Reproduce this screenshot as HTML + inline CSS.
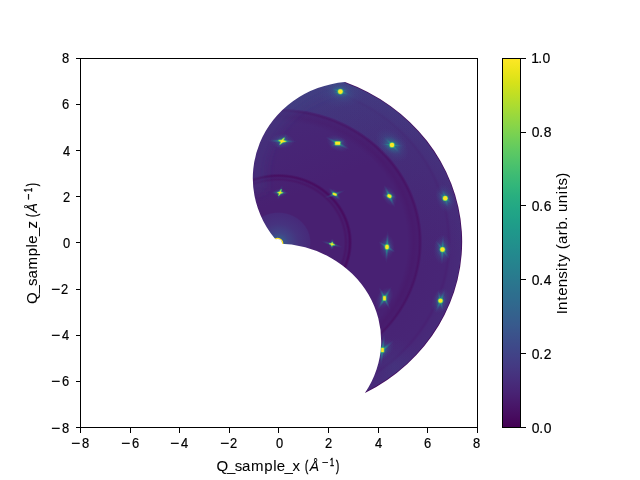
<!DOCTYPE html>
<html><head><meta charset="utf-8"><title>Reciprocal space map</title>
<style>
html,body{margin:0;padding:0;background:#fff;}
body{width:640px;height:480px;overflow:hidden;font-family:"Liberation Sans",sans-serif;}
svg{display:block;will-change:transform;}
text{font-family:"Liberation Sans",sans-serif;}
</style></head>
<body>
<svg width="640" height="480" viewBox="0 0 640 480">
<defs>
<clipPath id="reg"><path d="M278.90,243.00 A101.75,96.80 0 0 1 344.99,81.90 A184.26,171.63 0 0 1 364.95,393.01 A104.83,97.41 0 0 0 277.80,243.58 Z"/></clipPath>
<mask id="hole"><rect x="0" y="0" width="640" height="480" fill="#fff"/><ellipse cx="277.6" cy="243.4" rx="4.5" ry="4.3" fill="#000"/></mask>
<radialGradient id="bg" gradientUnits="userSpaceOnUse" cx="0" cy="0" r="7.5" gradientTransform="translate(278.4,242.4) scale(24.8,23.1)"><stop offset="0.0000" stop-color="#38588c"/><stop offset="0.0267" stop-color="#38588c"/><stop offset="0.0533" stop-color="#414487"/><stop offset="0.1067" stop-color="#46337f"/><stop offset="0.1680" stop-color="#472a7a"/><stop offset="0.1747" stop-color="#482071"/><stop offset="0.3507" stop-color="#482071"/><stop offset="0.3627" stop-color="#481668"/><stop offset="0.3733" stop-color="#481c6e"/><stop offset="0.3827" stop-color="#470d60"/><stop offset="0.3867" stop-color="#470d60"/><stop offset="0.3973" stop-color="#482173"/><stop offset="0.6933" stop-color="#482173"/><stop offset="0.7267" stop-color="#481b6d"/><stop offset="0.7493" stop-color="#481d6f"/><stop offset="0.7613" stop-color="#471365"/><stop offset="0.7733" stop-color="#482475"/><stop offset="0.9040" stop-color="#482576"/><stop offset="0.9173" stop-color="#482173"/><stop offset="0.9307" stop-color="#482878"/><stop offset="1.0000" stop-color="#472c7a"/></radialGradient>
<filter id="blur5" x="-30%" y="-30%" width="160%" height="160%"><feGaussianBlur stdDeviation="5"/></filter>
<radialGradient id="glow"><stop offset="0" stop-color="#3b528b" stop-opacity="0.55"/><stop offset="1" stop-color="#3e4989" stop-opacity="0"/></radialGradient>
<filter id="soft" x="-20%" y="-20%" width="140%" height="140%"><feGaussianBlur stdDeviation="0.6"/></filter>
<radialGradient id="strk"><stop offset="0" stop-color="#35b779" stop-opacity="1"/><stop offset="0.28" stop-color="#21918c" stop-opacity="0.85"/><stop offset="0.55" stop-color="#31688e" stop-opacity="0.5"/><stop offset="0.8" stop-color="#3e4989" stop-opacity="0.22"/><stop offset="1" stop-color="#3e4989" stop-opacity="0"/></radialGradient>
<radialGradient id="halo"><stop offset="0" stop-color="#21918c" stop-opacity="0.9"/><stop offset="0.3" stop-color="#2c728e" stop-opacity="0.6"/><stop offset="0.55" stop-color="#3b528b" stop-opacity="0.35"/><stop offset="1" stop-color="#414487" stop-opacity="0"/></radialGradient>
<linearGradient id="toplight" gradientUnits="userSpaceOnUse" x1="305" y1="80" x2="345" y2="175"><stop offset="0" stop-color="#3e4989" stop-opacity="0.36"/><stop offset="0.4" stop-color="#3e4989" stop-opacity="0.13"/><stop offset="1" stop-color="#3e4989" stop-opacity="0"/></linearGradient>
<linearGradient id="bandg" gradientUnits="userSpaceOnUse" x1="330" y1="80" x2="420" y2="270"><stop offset="0" stop-color="#355f8d" stop-opacity="0.26"/><stop offset="0.4" stop-color="#355f8d" stop-opacity="0.17"/><stop offset="0.7" stop-color="#355f8d" stop-opacity="0.08"/><stop offset="1" stop-color="#355f8d" stop-opacity="0"/></linearGradient>
<linearGradient id="cb" x1="0" y1="0" x2="0" y2="1"><stop offset="0.0000" stop-color="#fde725"/><stop offset="0.0312" stop-color="#ece51b"/><stop offset="0.0625" stop-color="#d8e219"/><stop offset="0.0938" stop-color="#c2df23"/><stop offset="0.1250" stop-color="#addc30"/><stop offset="0.1562" stop-color="#98d83e"/><stop offset="0.1875" stop-color="#84d44b"/><stop offset="0.2188" stop-color="#70cf57"/><stop offset="0.2500" stop-color="#5ec962"/><stop offset="0.2812" stop-color="#4ec36b"/><stop offset="0.3125" stop-color="#3fbc73"/><stop offset="0.3438" stop-color="#32b67a"/><stop offset="0.3750" stop-color="#28ae80"/><stop offset="0.4062" stop-color="#22a785"/><stop offset="0.4375" stop-color="#1fa088"/><stop offset="0.4688" stop-color="#1f988b"/><stop offset="0.5000" stop-color="#21918c"/><stop offset="0.5312" stop-color="#23898e"/><stop offset="0.5625" stop-color="#26828e"/><stop offset="0.5938" stop-color="#297a8e"/><stop offset="0.6250" stop-color="#2c728e"/><stop offset="0.6562" stop-color="#2f6b8e"/><stop offset="0.6875" stop-color="#33638d"/><stop offset="0.7188" stop-color="#375b8d"/><stop offset="0.7500" stop-color="#3b528b"/><stop offset="0.7812" stop-color="#3e4989"/><stop offset="0.8125" stop-color="#424086"/><stop offset="0.8438" stop-color="#453781"/><stop offset="0.8750" stop-color="#472d7b"/><stop offset="0.9062" stop-color="#482374"/><stop offset="0.9375" stop-color="#48186a"/><stop offset="0.9688" stop-color="#470d60"/><stop offset="1.0000" stop-color="#440154"/></linearGradient>
</defs>
<rect x="0" y="0" width="640" height="480" fill="#fff"/>
<g clip-path="url(#reg)"><g mask="url(#hole)">
<rect x="240" y="70" width="240" height="340" fill="url(#bg)"/>
<path fill-rule="evenodd" fill="url(#bandg)" d="M89.92,242.4 a188.48,175.56 0 1 0 376.96,0 a188.48,175.56 0 1 0 -376.96,0 Z M134.56,242.4 a143.84,133.98 0 1 0 287.68,0 a143.84,133.98 0 1 0 -287.68,0 Z"/>
<rect x="240" y="70" width="240" height="200" fill="url(#toplight)"/>
<path d="M258.40,192.40 A104.16,97.02 0 0 1 344.99,81.90" fill="none" stroke="#3e4989" stroke-opacity="0.26" stroke-width="16" filter="url(#blur5)"/>
<ellipse cx="341" cy="92" rx="24" ry="16" fill="url(#glow)"/>
<ellipse cx="394" cy="366" rx="28" ry="30" fill="url(#glow)" opacity="0.4"/>
<path d="M344.99,81.90 A184.26,171.63 0 0 1 364.95,393.01" fill="none" stroke="#440154" stroke-opacity="0.75" stroke-width="1.6"/>
<ellipse cx="277.6" cy="243.4" rx="5.1" ry="4.9" fill="none" stroke="#fde725" stroke-width="1.3"/>
<ellipse cx="340.4" cy="91.6" rx="16.2" ry="10.2" fill="url(#halo)" transform="rotate(19.6 340.4 91.6)"/><ellipse cx="340.4" cy="91.6" rx="12.0" ry="7.2" fill="url(#halo)" opacity="0.7" transform="rotate(168.1 340.4 91.6)"/><g filter="url(#soft)" opacity="1"><ellipse cx="340.4" cy="91.6" rx="11.5" ry="2.1" fill="url(#strk)" transform="rotate(19.6 340.4 91.6)"/><ellipse cx="340.4" cy="91.6" rx="9.2" ry="1.9" fill="url(#strk)" transform="rotate(168.1 340.4 91.6)"/></g><ellipse cx="340.4" cy="91.6" rx="2.95" ry="2.95" fill="#4ac16d" transform="rotate(0 340.4 91.6)"/><ellipse cx="340.4" cy="91.6" rx="2.30" ry="2.30" fill="#fde725" transform="rotate(0 340.4 91.6)"/><ellipse cx="282.2" cy="141.1" rx="12.2" ry="7.6" fill="url(#halo)" transform="rotate(1.9 282.2 141.1)"/><ellipse cx="282.2" cy="141.1" rx="9.0" ry="5.4" fill="url(#halo)" opacity="0.7" transform="rotate(125.4 282.2 141.1)"/><g filter="url(#soft)" opacity="1"><ellipse cx="282.2" cy="141.1" rx="14.9" ry="2.1" fill="url(#strk)" transform="rotate(1.9 282.2 141.1)"/><ellipse cx="282.2" cy="141.1" rx="8.0" ry="1.9" fill="url(#strk)" transform="rotate(125.4 282.2 141.1)"/></g><polygon points="286.20,141.40 283.20,140.20 284.20,138.10 281.70,139.90 278.70,140.50 281.00,141.90 280.00,144.30 282.80,142.30" fill="#4ac16d" stroke="#4ac16d" stroke-width="1.30" stroke-linejoin="round"/><polygon points="286.20,141.40 283.20,140.20 284.20,138.10 281.70,139.90 278.70,140.50 281.00,141.90 280.00,144.30 282.80,142.30" fill="#fde725"/><ellipse cx="337.65" cy="143.25" rx="12.2" ry="7.6" fill="url(#halo)" transform="rotate(27.4 337.65 143.25)"/><ellipse cx="337.65" cy="143.25" rx="9.0" ry="5.4" fill="url(#halo)" opacity="0.7" transform="rotate(156.4 337.65 143.25)"/><g filter="url(#soft)" opacity="1"><ellipse cx="337.65" cy="143.25" rx="13.8" ry="2.1" fill="url(#strk)" transform="rotate(27.4 337.65 143.25)"/><ellipse cx="337.65" cy="143.25" rx="8.0" ry="1.9" fill="url(#strk)" transform="rotate(156.4 337.65 143.25)"/></g><rect x="334.60" y="141.10" width="6.10" height="4.30" rx="1.25" fill="#4ac16d" transform="rotate(0 337.65 143.25)"/><rect x="335.25" y="141.75" width="4.80" height="3.00" rx="0.60" fill="#fde725" transform="rotate(0 337.65 143.25)"/><ellipse cx="392.0" cy="145.0" rx="20.2" ry="12.8" fill="url(#halo)" transform="rotate(45.3 392.0 145.0)"/><ellipse cx="392.0" cy="145.0" rx="15.0" ry="9.0" fill="url(#halo)" opacity="0.7" transform="rotate(-175.2 392.0 145.0)"/><g filter="url(#soft)" opacity="1"><ellipse cx="392.0" cy="145.0" rx="12.6" ry="2.1" fill="url(#strk)" transform="rotate(45.3 392.0 145.0)"/><ellipse cx="392.0" cy="145.0" rx="12.6" ry="1.9" fill="url(#strk)" transform="rotate(-175.2 392.0 145.0)"/></g><ellipse cx="392.0" cy="145.0" rx="2.85" ry="2.85" fill="#4ac16d" transform="rotate(0 392.0 145.0)"/><ellipse cx="392.0" cy="145.0" rx="2.20" ry="2.20" fill="#fde725" transform="rotate(0 392.0 145.0)"/><ellipse cx="280.0" cy="192.7" rx="6.8" ry="4.2" fill="url(#halo)" transform="rotate(1.6 280.0 192.7)"/><ellipse cx="280.0" cy="192.7" rx="5.0" ry="3.0" fill="url(#halo)" opacity="0.7" transform="rotate(107.7 280.0 192.7)"/><g filter="url(#soft)" opacity="0.65"><ellipse cx="280.0" cy="192.7" rx="9.2" ry="2.1" fill="url(#strk)" transform="rotate(1.6 280.0 192.7)"/><ellipse cx="280.0" cy="192.7" rx="8.0" ry="1.9" fill="url(#strk)" transform="rotate(107.7 280.0 192.7)"/></g><polygon points="282.70,192.70 280.60,192.00 281.20,189.70 279.50,191.90 277.50,192.50 279.30,193.40 278.70,195.40 280.50,193.60" fill="#4ac16d" stroke="#4ac16d" stroke-width="1.30" stroke-linejoin="round"/><polygon points="282.70,192.70 280.60,192.00 281.20,189.70 279.50,191.90 277.50,192.50 279.30,193.40 278.70,195.40 280.50,193.60" fill="#fde725"/><ellipse cx="334.7" cy="194.2" rx="6.8" ry="4.2" fill="url(#halo)" transform="rotate(45.4 334.7 194.2)"/><ellipse cx="334.7" cy="194.2" rx="5.0" ry="3.0" fill="url(#halo)" opacity="0.7" transform="rotate(160.3 334.7 194.2)"/><g filter="url(#soft)" opacity="0.65"><ellipse cx="334.7" cy="194.2" rx="9.2" ry="2.1" fill="url(#strk)" transform="rotate(45.4 334.7 194.2)"/><ellipse cx="334.7" cy="194.2" rx="11.5" ry="1.9" fill="url(#strk)" transform="rotate(160.3 334.7 194.2)"/></g><ellipse cx="334.7" cy="194.2" rx="2.75" ry="1.65" fill="#4ac16d" transform="rotate(20 334.7 194.2)"/><ellipse cx="334.7" cy="194.2" rx="2.10" ry="1.00" fill="#fde725" transform="rotate(20 334.7 194.2)"/><ellipse cx="389.4" cy="196.1" rx="10.8" ry="6.8" fill="url(#halo)" transform="rotate(64.3 389.4 196.1)"/><ellipse cx="389.4" cy="196.1" rx="8.0" ry="4.8" fill="url(#halo)" opacity="0.7" transform="rotate(-169.2 389.4 196.1)"/><g filter="url(#soft)" opacity="1"><ellipse cx="389.4" cy="196.1" rx="12.6" ry="2.1" fill="url(#strk)" transform="rotate(64.3 389.4 196.1)"/><ellipse cx="389.4" cy="196.1" rx="6.9" ry="1.9" fill="url(#strk)" transform="rotate(-169.2 389.4 196.1)"/></g><ellipse cx="389.4" cy="196.1" rx="2.75" ry="2.25" fill="#4ac16d" transform="rotate(25 389.4 196.1)"/><ellipse cx="389.4" cy="196.1" rx="2.10" ry="1.60" fill="#fde725" transform="rotate(25 389.4 196.1)"/><ellipse cx="445.25" cy="198.25" rx="14.9" ry="9.3" fill="url(#halo)" transform="rotate(73.0 445.25 198.25)"/><ellipse cx="445.25" cy="198.25" rx="11.0" ry="6.6" fill="url(#halo)" opacity="0.7" transform="rotate(-141.5 445.25 198.25)"/><g filter="url(#soft)" opacity="1"><ellipse cx="445.25" cy="198.25" rx="10.3" ry="2.1" fill="url(#strk)" transform="rotate(73.0 445.25 198.25)"/><ellipse cx="445.25" cy="198.25" rx="9.2" ry="1.9" fill="url(#strk)" transform="rotate(-141.5 445.25 198.25)"/></g><ellipse cx="445.25" cy="198.25" rx="2.85" ry="2.85" fill="#4ac16d" transform="rotate(0 445.25 198.25)"/><ellipse cx="445.25" cy="198.25" rx="2.20" ry="2.20" fill="#fde725" transform="rotate(0 445.25 198.25)"/><ellipse cx="332.0" cy="244.25" rx="5.4" ry="3.4" fill="url(#halo)" transform="rotate(92.3 332.0 244.25)"/><ellipse cx="332.0" cy="244.25" rx="4.0" ry="2.4" fill="url(#halo)" opacity="0.7" transform="rotate(-164.1 332.0 244.25)"/><g filter="url(#soft)" opacity="0.65"><ellipse cx="332.0" cy="244.25" rx="5.8" ry="2.1" fill="url(#strk)" transform="rotate(92.3 332.0 244.25)"/><ellipse cx="332.0" cy="244.25" rx="11.5" ry="1.9" fill="url(#strk)" transform="rotate(-164.1 332.0 244.25)"/></g><polygon points="334.60,244.75 332.70,243.65 332.30,242.35 331.40,243.55 329.60,243.75 331.30,244.85 331.80,245.95 332.60,245.05" fill="#4ac16d" stroke="#4ac16d" stroke-width="1.30" stroke-linejoin="round"/><polygon points="334.60,244.75 332.70,243.65 332.30,242.35 331.40,243.55 329.60,243.75 331.30,244.85 331.80,245.95 332.60,245.05" fill="#fde725"/><ellipse cx="387.0" cy="247.0" rx="12.2" ry="7.6" fill="url(#halo)" transform="rotate(92.8 387.0 247.0)"/><ellipse cx="387.0" cy="247.0" rx="9.0" ry="5.4" fill="url(#halo)" opacity="0.7" transform="rotate(-147.8 387.0 247.0)"/><g filter="url(#soft)" opacity="1"><ellipse cx="387.0" cy="247.0" rx="16.1" ry="2.1" fill="url(#strk)" transform="rotate(92.8 387.0 247.0)"/><ellipse cx="387.0" cy="247.0" rx="10.3" ry="1.9" fill="url(#strk)" transform="rotate(-147.8 387.0 247.0)"/></g><ellipse cx="387.0" cy="247.0" rx="2.45" ry="2.95" fill="#4ac16d" transform="rotate(0 387.0 247.0)"/><ellipse cx="387.0" cy="247.0" rx="1.80" ry="2.30" fill="#fde725" transform="rotate(0 387.0 247.0)"/><ellipse cx="442.5" cy="249.5" rx="14.9" ry="9.3" fill="url(#halo)" transform="rotate(92.9 442.5 249.5)"/><ellipse cx="442.5" cy="249.5" rx="11.0" ry="6.6" fill="url(#halo)" opacity="0.7" transform="rotate(-127.2 442.5 249.5)"/><g filter="url(#soft)" opacity="1"><ellipse cx="442.5" cy="249.5" rx="14.9" ry="2.1" fill="url(#strk)" transform="rotate(92.9 442.5 249.5)"/><ellipse cx="442.5" cy="249.5" rx="11.5" ry="1.9" fill="url(#strk)" transform="rotate(-127.2 442.5 249.5)"/></g><ellipse cx="442.5" cy="249.5" rx="2.85" ry="2.85" fill="#4ac16d" transform="rotate(0 442.5 249.5)"/><ellipse cx="442.5" cy="249.5" rx="2.20" ry="2.20" fill="#fde725" transform="rotate(0 442.5 249.5)"/><ellipse cx="384.5" cy="298.25" rx="12.2" ry="7.6" fill="url(#halo)" transform="rotate(121.2 384.5 298.25)"/><ellipse cx="384.5" cy="298.25" rx="9.0" ry="5.4" fill="url(#halo)" opacity="0.7" transform="rotate(-116.3 384.5 298.25)"/><g filter="url(#soft)" opacity="1"><ellipse cx="384.5" cy="298.25" rx="13.8" ry="2.1" fill="url(#strk)" transform="rotate(121.2 384.5 298.25)"/><ellipse cx="384.5" cy="298.25" rx="12.6" ry="1.9" fill="url(#strk)" transform="rotate(-116.3 384.5 298.25)"/></g><rect x="382.55" y="295.50" width="3.90" height="5.50" rx="1.25" fill="#4ac16d" transform="rotate(0 384.5 298.25)"/><rect x="383.20" y="296.15" width="2.60" height="4.20" rx="0.60" fill="#fde725" transform="rotate(0 384.5 298.25)"/><ellipse cx="440.5" cy="300.75" rx="13.5" ry="8.5" fill="url(#halo)" transform="rotate(112.5 440.5 300.75)"/><ellipse cx="440.5" cy="300.75" rx="10.0" ry="6.0" fill="url(#halo)" opacity="0.7" transform="rotate(-103.2 440.5 300.75)"/><g filter="url(#soft)" opacity="1"><ellipse cx="440.5" cy="300.75" rx="12.6" ry="2.1" fill="url(#strk)" transform="rotate(112.5 440.5 300.75)"/><ellipse cx="440.5" cy="300.75" rx="11.5" ry="1.9" fill="url(#strk)" transform="rotate(-103.2 440.5 300.75)"/></g><ellipse cx="440.5" cy="300.75" rx="2.75" ry="2.65" fill="#4ac16d" transform="rotate(0 440.5 300.75)"/><ellipse cx="440.5" cy="300.75" rx="2.10" ry="2.00" fill="#fde725" transform="rotate(0 440.5 300.75)"/><ellipse cx="382.5" cy="350.0" rx="13.5" ry="8.5" fill="url(#halo)" transform="rotate(140.0 382.5 350.0)"/><ellipse cx="382.5" cy="350.0" rx="10.0" ry="6.0" fill="url(#halo)" opacity="0.7" transform="rotate(-83.3 382.5 350.0)"/><g filter="url(#soft)" opacity="1"><ellipse cx="382.5" cy="350.0" rx="14.9" ry="2.1" fill="url(#strk)" transform="rotate(140.0 382.5 350.0)"/><ellipse cx="382.5" cy="350.0" rx="16.1" ry="1.9" fill="url(#strk)" transform="rotate(-83.3 382.5 350.0)"/></g><rect x="380.55" y="347.25" width="3.90" height="5.50" rx="1.25" fill="#4ac16d" transform="rotate(0 382.5 350.0)"/><rect x="381.20" y="347.90" width="2.60" height="4.20" rx="0.60" fill="#fde725" transform="rotate(0 382.5 350.0)"/>
</g></g>
<rect x="80.5" y="58.5" width="397" height="369" fill="none" stroke="#000" stroke-width="1" shape-rendering="crispEdges"/>
<line x1="80.5" y1="428" x2="80.5" y2="432.5" stroke="#000" stroke-width="1" shape-rendering="crispEdges"/><g transform="translate(0,448)"><text transform="translate(71.10,0) scale(1.123,1)" font-family="Liberation Sans, sans-serif" font-size="13.9px" fill="#000" stroke="#000" stroke-width="0.2">−</text><text transform="translate(81.90,0) scale(0.929,1)" font-family="Liberation Sans, sans-serif" font-size="13.9px" fill="#000" stroke="#000" stroke-width="0.2">8</text></g><line x1="130.5" y1="428" x2="130.5" y2="432.5" stroke="#000" stroke-width="1" shape-rendering="crispEdges"/><g transform="translate(0,448)"><text transform="translate(121.10,0) scale(1.123,1)" font-family="Liberation Sans, sans-serif" font-size="13.9px" fill="#000" stroke="#000" stroke-width="0.2">−</text><text transform="translate(131.90,0) scale(0.929,1)" font-family="Liberation Sans, sans-serif" font-size="13.9px" fill="#000" stroke="#000" stroke-width="0.2">6</text></g><line x1="179.5" y1="428" x2="179.5" y2="432.5" stroke="#000" stroke-width="1" shape-rendering="crispEdges"/><g transform="translate(0,448)"><text transform="translate(170.10,0) scale(1.123,1)" font-family="Liberation Sans, sans-serif" font-size="13.9px" fill="#000" stroke="#000" stroke-width="0.2">−</text><text transform="translate(180.90,0) scale(0.929,1)" font-family="Liberation Sans, sans-serif" font-size="13.9px" fill="#000" stroke="#000" stroke-width="0.2">4</text></g><line x1="229.5" y1="428" x2="229.5" y2="432.5" stroke="#000" stroke-width="1" shape-rendering="crispEdges"/><g transform="translate(0,448)"><text transform="translate(220.10,0) scale(1.123,1)" font-family="Liberation Sans, sans-serif" font-size="13.9px" fill="#000" stroke="#000" stroke-width="0.2">−</text><text transform="translate(229.90,0) scale(0.929,1)" font-family="Liberation Sans, sans-serif" font-size="13.9px" fill="#000" stroke="#000" stroke-width="0.2">2</text></g><line x1="278.5" y1="428" x2="278.5" y2="432.5" stroke="#000" stroke-width="1" shape-rendering="crispEdges"/><g transform="translate(0,448)"><text transform="translate(275.90,0) scale(0.929,1)" font-family="Liberation Sans, sans-serif" font-size="13.9px" fill="#000" stroke="#000" stroke-width="0.2">0</text></g><line x1="328.5" y1="428" x2="328.5" y2="432.5" stroke="#000" stroke-width="1" shape-rendering="crispEdges"/><g transform="translate(0,448)"><text transform="translate(324.90,0) scale(0.929,1)" font-family="Liberation Sans, sans-serif" font-size="13.9px" fill="#000" stroke="#000" stroke-width="0.2">2</text></g><line x1="378.5" y1="428" x2="378.5" y2="432.5" stroke="#000" stroke-width="1" shape-rendering="crispEdges"/><g transform="translate(0,448)"><text transform="translate(374.90,0) scale(0.929,1)" font-family="Liberation Sans, sans-serif" font-size="13.9px" fill="#000" stroke="#000" stroke-width="0.2">4</text></g><line x1="427.5" y1="428" x2="427.5" y2="432.5" stroke="#000" stroke-width="1" shape-rendering="crispEdges"/><g transform="translate(0,448)"><text transform="translate(423.90,0) scale(0.929,1)" font-family="Liberation Sans, sans-serif" font-size="13.9px" fill="#000" stroke="#000" stroke-width="0.2">6</text></g><line x1="477.5" y1="428" x2="477.5" y2="432.5" stroke="#000" stroke-width="1" shape-rendering="crispEdges"/><g transform="translate(0,448)"><text transform="translate(472.90,0) scale(0.929,1)" font-family="Liberation Sans, sans-serif" font-size="13.9px" fill="#000" stroke="#000" stroke-width="0.2">8</text></g><line x1="75.5" y1="427.5" x2="80" y2="427.5" stroke="#000" stroke-width="1" shape-rendering="crispEdges"/><g transform="translate(0,433)"><text transform="translate(51.10,0) scale(1.123,1)" font-family="Liberation Sans, sans-serif" font-size="13.9px" fill="#000" stroke="#000" stroke-width="0.2">−</text><text transform="translate(61.90,0) scale(0.929,1)" font-family="Liberation Sans, sans-serif" font-size="13.9px" fill="#000" stroke="#000" stroke-width="0.2">8</text></g><line x1="75.5" y1="381.5" x2="80" y2="381.5" stroke="#000" stroke-width="1" shape-rendering="crispEdges"/><g transform="translate(0,386)"><text transform="translate(51.10,0) scale(1.123,1)" font-family="Liberation Sans, sans-serif" font-size="13.9px" fill="#000" stroke="#000" stroke-width="0.2">−</text><text transform="translate(61.90,0) scale(0.929,1)" font-family="Liberation Sans, sans-serif" font-size="13.9px" fill="#000" stroke="#000" stroke-width="0.2">6</text></g><line x1="75.5" y1="335.5" x2="80" y2="335.5" stroke="#000" stroke-width="1" shape-rendering="crispEdges"/><g transform="translate(0,340)"><text transform="translate(51.10,0) scale(1.123,1)" font-family="Liberation Sans, sans-serif" font-size="13.9px" fill="#000" stroke="#000" stroke-width="0.2">−</text><text transform="translate(61.90,0) scale(0.929,1)" font-family="Liberation Sans, sans-serif" font-size="13.9px" fill="#000" stroke="#000" stroke-width="0.2">4</text></g><line x1="75.5" y1="289.5" x2="80" y2="289.5" stroke="#000" stroke-width="1" shape-rendering="crispEdges"/><g transform="translate(0,294)"><text transform="translate(51.10,0) scale(1.123,1)" font-family="Liberation Sans, sans-serif" font-size="13.9px" fill="#000" stroke="#000" stroke-width="0.2">−</text><text transform="translate(60.90,0) scale(0.929,1)" font-family="Liberation Sans, sans-serif" font-size="13.9px" fill="#000" stroke="#000" stroke-width="0.2">2</text></g><line x1="75.5" y1="242.5" x2="80" y2="242.5" stroke="#000" stroke-width="1" shape-rendering="crispEdges"/><g transform="translate(0,248)"><text transform="translate(62.90,0) scale(0.929,1)" font-family="Liberation Sans, sans-serif" font-size="13.9px" fill="#000" stroke="#000" stroke-width="0.2">0</text></g><line x1="75.5" y1="196.5" x2="80" y2="196.5" stroke="#000" stroke-width="1" shape-rendering="crispEdges"/><g transform="translate(0,202)"><text transform="translate(62.90,0) scale(0.929,1)" font-family="Liberation Sans, sans-serif" font-size="13.9px" fill="#000" stroke="#000" stroke-width="0.2">2</text></g><line x1="75.5" y1="150.5" x2="80" y2="150.5" stroke="#000" stroke-width="1" shape-rendering="crispEdges"/><g transform="translate(0,156)"><text transform="translate(62.90,0) scale(0.929,1)" font-family="Liberation Sans, sans-serif" font-size="13.9px" fill="#000" stroke="#000" stroke-width="0.2">4</text></g><line x1="75.5" y1="104.5" x2="80" y2="104.5" stroke="#000" stroke-width="1" shape-rendering="crispEdges"/><g transform="translate(0,109)"><text transform="translate(61.90,0) scale(0.929,1)" font-family="Liberation Sans, sans-serif" font-size="13.9px" fill="#000" stroke="#000" stroke-width="0.2">6</text></g><line x1="75.5" y1="58.5" x2="80" y2="58.5" stroke="#000" stroke-width="1" shape-rendering="crispEdges"/><g transform="translate(0,63)"><text transform="translate(61.90,0) scale(0.929,1)" font-family="Liberation Sans, sans-serif" font-size="13.9px" fill="#000" stroke="#000" stroke-width="0.2">8</text></g>
<rect x="503" y="59" width="17" height="368" fill="url(#cb)"/><rect x="502.5" y="58.5" width="18" height="369" fill="none" stroke="#000" stroke-width="1" shape-rendering="crispEdges"/>
<line x1="521" y1="427.5" x2="525.5" y2="427.5" stroke="#000" stroke-width="1" shape-rendering="crispEdges"/><text x="531.7 539.3 543.7" y="433" font-family="Liberation Sans, sans-serif" font-size="13.9px" fill="#000" stroke="#000" stroke-width="0.2">0.0</text><line x1="521" y1="353.5" x2="525.5" y2="353.5" stroke="#000" stroke-width="1" shape-rendering="crispEdges"/><text x="531.7 539.3 543.7" y="359" font-family="Liberation Sans, sans-serif" font-size="13.9px" fill="#000" stroke="#000" stroke-width="0.2">0.2</text><line x1="521" y1="279.5" x2="525.5" y2="279.5" stroke="#000" stroke-width="1" shape-rendering="crispEdges"/><text x="531.7 539.3 543.7" y="285" font-family="Liberation Sans, sans-serif" font-size="13.9px" fill="#000" stroke="#000" stroke-width="0.2">0.4</text><line x1="521" y1="205.5" x2="525.5" y2="205.5" stroke="#000" stroke-width="1" shape-rendering="crispEdges"/><text x="531.7 539.3 543.7" y="211" font-family="Liberation Sans, sans-serif" font-size="13.9px" fill="#000" stroke="#000" stroke-width="0.2">0.6</text><line x1="521" y1="132.5" x2="525.5" y2="132.5" stroke="#000" stroke-width="1" shape-rendering="crispEdges"/><text x="531.7 539.3 543.7" y="137" font-family="Liberation Sans, sans-serif" font-size="13.9px" fill="#000" stroke="#000" stroke-width="0.2">0.8</text><line x1="521" y1="58.5" x2="525.5" y2="58.5" stroke="#000" stroke-width="1" shape-rendering="crispEdges"/><text x="531.2 538.3 542.5" y="63" font-family="Liberation Sans, sans-serif" font-size="13.9px" fill="#000" stroke="#000" stroke-width="0.2">1.0</text>
<g transform="translate(218,471)"><text transform="scale(1.08,1)" x="-1.36 8.45 15.41 22.31 30.59 42.86 51.05 54.47 61.64 69.05" y="0" font-family="Liberation Sans, sans-serif" font-size="13.9px" fill="#000" stroke="#000" stroke-width="0.05">Q_sample_x</text><g transform="translate(0,0)"><text transform="translate(87.00,0) scale(0.688,1)" font-family="Liberation Sans, sans-serif" font-size="13.9px" fill="#000" stroke="#000" stroke-width="0.4">(</text><text transform="translate(91.70,0) scale(1.005,1)" font-family="Liberation Sans, sans-serif" font-size="13.9px" font-style="italic" fill="#000" stroke="#000" stroke-width="0.05">&#197;</text><g transform="translate(0,-5.2)"><text transform="translate(104.00,0) scale(0.976,1)" font-family="Liberation Sans, sans-serif" font-size="10.5px" fill="#000" stroke="#000" stroke-width="0.45">&#8722;</text><text transform="translate(112.00,0) scale(0.667,1)" font-family="Liberation Sans, sans-serif" font-size="10.8px" fill="#000" stroke="#000" stroke-width="0.45">1</text></g><text transform="translate(117.90,0) scale(0.688,1)" font-family="Liberation Sans, sans-serif" font-size="13.9px" fill="#000" stroke="#000" stroke-width="0.4">)</text></g></g>
<g transform="translate(37,302.6) rotate(-90)"><text transform="scale(1.08,1)" x="-1.36 8.45 15.41 22.31 30.59 42.86 51.05 54.47 61.64 68.62" y="0" font-family="Liberation Sans, sans-serif" font-size="13.9px" fill="#000" stroke="#000" stroke-width="0.05">Q_sample_z</text><g transform="translate(-1.5,0)"><text transform="translate(87.00,0) scale(0.688,1)" font-family="Liberation Sans, sans-serif" font-size="13.9px" fill="#000" stroke="#000" stroke-width="0.4">(</text><text transform="translate(91.70,0) scale(1.005,1)" font-family="Liberation Sans, sans-serif" font-size="13.9px" font-style="italic" fill="#000" stroke="#000" stroke-width="0.05">&#197;</text><g transform="translate(0,-5.2)"><text transform="translate(104.00,0) scale(0.976,1)" font-family="Liberation Sans, sans-serif" font-size="10.5px" fill="#000" stroke="#000" stroke-width="0.45">&#8722;</text><text transform="translate(112.00,0) scale(0.667,1)" font-family="Liberation Sans, sans-serif" font-size="10.8px" fill="#000" stroke="#000" stroke-width="0.45">1</text></g><text transform="translate(117.90,0) scale(0.688,1)" font-family="Liberation Sans, sans-serif" font-size="13.9px" fill="#000" stroke="#000" stroke-width="0.4">)</text></g></g>
<g transform="translate(567,313) rotate(-90)"><text transform="scale(1.08,1)" x="-1.24 2.80 11.33 15.87 23.90 31.72 38.79 42.71 47.49 54.88 59.05 63.95 72.09 77.26 85.32 89.41 93.59 101.74 109.93 113.85 118.17 125.19" y="0" font-family="Liberation Sans, sans-serif" font-size="13.9px" fill="#000" stroke="#000" stroke-width="0">Intensity (arb. units)</text></g>
</svg>
</body></html>
